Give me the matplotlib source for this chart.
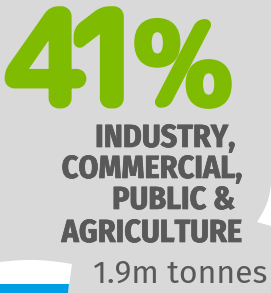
import matplotlib
matplotlib.use("Agg")
import matplotlib.pyplot as plt
from matplotlib.patches import Polygon, Rectangle
import matplotlib.patheffects as pe
import numpy as np

# ---- content ----
percent_digits = ["4", "1"]
percent_sign = "%"
label_lines = ["INDUSTRY,", "COMMERCIAL,", "PUBLIC &", "AGRICULTURE"]
amount_text = "1.9m tonnes"

GRAY_BG = "#d9d9d9"
GREEN = "#7fbb00"
TEXT = "#595959"
BLUE = "#009fe3"

W, H = 271, 293
fig = plt.figure(figsize=(W / 100, H / 100), dpi=100)
ax = fig.add_axes([0, 0, 1, 1])
ax.set_xlim(0, W)
ax.set_ylim(H, 0)
ax.axis("off")
fig.patch.set_facecolor("white")

# gray blob background
ax.add_patch(Rectangle((0, 0), W, H, facecolor=GRAY_BG, edgecolor="none", zorder=0))

# bottom-left white region with slightly curved top
t = np.linspace(0, 1, 20)
top_x = 72 * t
top_y = 262 - 3 * np.sin(np.pi * t) + 2 * t
pts = list(zip(top_x, top_y)) + [(68, H), (0, H)]
ax.add_patch(Polygon(pts, closed=True, facecolor="white", edgecolor="none", zorder=1))

# blue bar
ax.add_patch(Polygon([(0, 284), (69, 284), (68, H), (0, H)], closed=True,
                     facecolor=BLUE, edgecolor="none", zorder=2))

# right white notch (concave left edge)
s = np.linspace(0, 1, 20)
nx = 271 - 14 * s + 3 * np.sin(np.pi * s)
ny = 184 + 38 * s
pts_r = list(zip(nx, ny)) + [(271, 226)]
ax.add_patch(Polygon(pts_r, closed=True, facecolor="white", edgecolor="none", zorder=1))

big_font = "Rounded Mplus 1c Bold"
thick = [pe.withStroke(linewidth=3.5, foreground=GREEN)]
ax.text(48, 106, percent_digits[0], fontsize=96, family=big_font, color=GREEN,
        ha="center", va="baseline", zorder=3, path_effects=thick)
ax.text(105, 106, percent_digits[1], fontsize=96, family=big_font, color=GREEN,
        ha="center", va="baseline", zorder=3, path_effects=thick)
ax.text(183, 106, percent_sign, fontsize=84, family=big_font, color=GREEN,
        ha="center", va="baseline", zorder=3,
        path_effects=[pe.withStroke(linewidth=2.5, foreground=GREEN)])

label_font = "Fira Sans Condensed"
rights = [235, 243, 235, 242]
baselines = [147, 178, 209, 242]
semi = [pe.withStroke(linewidth=0.5, foreground=TEXT)]
for txt, xr, yb in zip(label_lines, rights, baselines):
    ax.text(xr, yb, txt, fontsize=23, family=label_font, weight="bold", color=TEXT,
            ha="right", va="baseline", zorder=3, path_effects=semi)

ax.text(267, 283, amount_text, fontsize=23, family="Fira Sans", weight="normal",
        color=TEXT, ha="right", va="baseline", zorder=3)

fig.savefig("out.png", dpi=100, facecolor="white")
